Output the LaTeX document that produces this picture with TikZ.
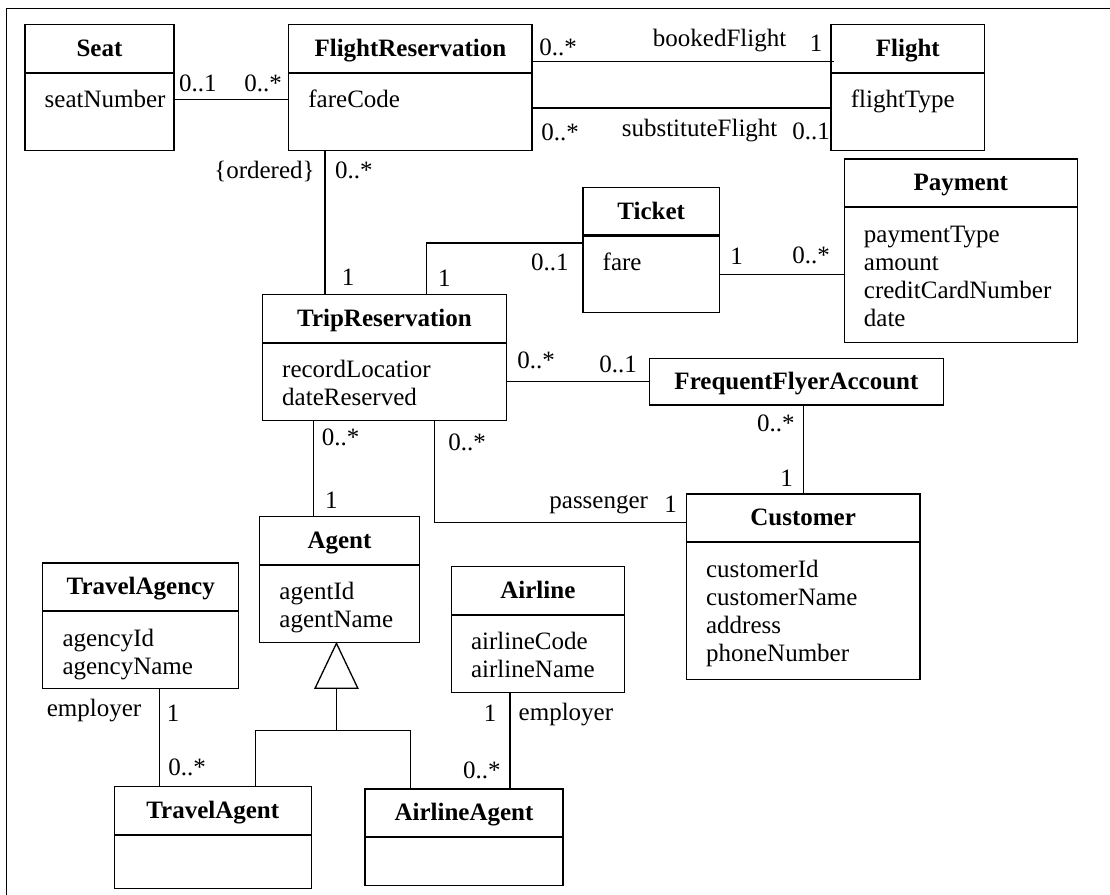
\documentclass[tikz,border=0pt]{standalone}
\usepackage{fontspec}
\setmainfont{Liberation Serif}
\usepackage{tikz}
\newcommand{\umlfont}{\fontsize{12.5}{14}\selectfont}
\tikzstyle{assoc} = [line width=0.65pt]
\tikzstyle{clshead} = [rectangle, draw=black, line width=0.65pt,
anchor=north west,
minimum height=23.75pt,
inner sep=0pt,
text height=10pt,
text depth=2pt,
font=\umlfont\bfseries]
\tikzstyle{clsbody} = [rectangle, draw=black, line width=0.65pt,
anchor=north west,
inner sep=0pt]
\tikzstyle{attr} = [anchor=north west, align=left, inner sep=0pt]
\tikzstyle{mult} = [inner sep=0pt, text height=8.5pt, text depth=0pt]

\begin{document}
\begin{tikzpicture}[x=0.5pt, y=-0.5pt, font=\umlfont]
            \useasboundingbox (0,0) rectangle (1110,895);
            \draw [assoc] (1110,8.3) -- (6.4,8.3) -- (6.4,895);

            \node (seath) [clshead, minimum width=74.5pt] at (24.3,24) {Seat};
            \node (seatb) [clsbody, minimum width=74.5pt, minimum height=38.5pt] at (seath.south west) {};
            \node (seata) [attr] at ([shift={(20,15)}]seatb.north west) {\strut seatNumber};

            \node (frh) [clshead, minimum width=121.7pt] at (288,24) {FlightReservation};
            \node (frb) [clsbody, minimum width=121.7pt, minimum height=38.5pt] at (frh.south west) {};
            \node (fra) [attr] at ([shift={(20,15)}]frb.north west) {\strut fareCode};

            \node (flighth) [clshead, minimum width=76.8pt] at (830.4,24) {Flight};
            \node (flightb) [clsbody, minimum width=76.8pt, minimum height=38.5pt] at (flighth.south west) {};
            \node (flighta) [attr] at ([shift={(20,15)}]flightb.north west) {\strut flightType};

            \node (payh) [clshead, minimum width=116.7pt] at (843.5,158.3) {Payment};
            \node (payb) [clsbody, minimum width=116.7pt, minimum height=67.4pt] at (payh.south west) {};
            \node (paya) [attr] at ([shift={(20,15)}]payb.north west) {\strut paymentType\\amount\\creditCardNumber\\date};

            \node (ticketh) [clshead, minimum width=68.3pt] at (582.3,186.7) {Ticket};
            \node (ticketb) [clsbody, minimum width=68.3pt, minimum height=38.25pt] at (ticketh.south west) {};
            \node (ticketa) [attr] at ([shift={(20,15)}]ticketb.north west) {\strut fare};

            \node (trh) [clshead, minimum width=122pt] at (261.8,294) {TripReservation};
            \node (trb) [clsbody, minimum width=122pt, minimum height=38.4pt] at (trh.south west) {};
            \node (tra) [attr] at ([shift={(20,15)}]trb.north west) {\strut recordLocatior\\dateReserved};

            \node (ffa) [clshead, minimum width=146.8pt, minimum height=23.3pt] at (649,357.7) {FrequentFlyerAccount};

            \node (custh) [clshead, minimum width=116.8pt] at (685.7,493.3) {Customer};
            \node (custb) [clsbody, minimum width=116.8pt, minimum height=68.4pt] at (custh.south west) {};
            \node (custa) [attr] at ([shift={(20,15)}]custb.north west) {\strut customerId\\customerName\\address\\phoneNumber};

            \node (agenth) [clshead, minimum width=79.8pt] at (259,516) {Agent};
            \node (agentb) [clsbody, minimum width=79.8pt, minimum height=38.6pt] at (agenth.south west) {};
            \node (agenta) [attr] at ([shift={(20,15)}]agentb.north west) {\strut agentId\\agentName};

            \node (tagencyh) [clshead, minimum width=98pt] at (42.1,562.3) {TravelAgency};
            \node (tagencyb) [clsbody, minimum width=98pt, minimum height=38.4pt] at (tagencyh.south west) {};
            \node (tagencya) [attr] at ([shift={(20,15)}]tagencyb.north west) {\strut agencyId\\agencyName};

            \node (airlineh) [clshead, minimum width=86.5pt] at (450.7,566) {Airline};
            \node (airlineb) [clsbody, minimum width=86.5pt, minimum height=38.6pt] at (airlineh.south west) {};
            \node (airlinea) [attr] at ([shift={(20,15)}]airlineb.north west) {\strut airlineCode\\airlineName};

            \node (tagenth) [clshead, minimum width=98.5pt] at (113.6,786) {TravelAgent};
            \node (tagentb) [clsbody, minimum width=98.5pt, minimum height=26.6pt] at (tagenth.south west) {};

            \node (aagenth) [clshead, minimum width=99pt] at (364.3,788.3) {AirlineAgent};
            \node (aagentb) [clsbody, minimum width=99pt, minimum height=23.75pt] at (aagenth.south west) {};

            \draw [assoc] (seatb.north east) ++(0,27) coordinate (sf) -- (frb.west |- sf);
            \draw [assoc] (frh.north east) ++(0,37.7) coordinate (bk) -- ([xshift=2pt]flighth.west |- bk);
            \draw [assoc] (frb.north east) ++(0,35.2) coordinate (sb) -- (flightb.west |- sb);
            \draw [assoc] (frb.south west) ++(37,0) coordinate (ft) -- (trh.north -| ft);
            \draw [assoc] (trh.north west) ++(165,0) |- ([shift={(0,7.5)}]ticketb.north west);
            \draw [assoc] (ticketb.north east) ++(0,39) coordinate (tq) -- (payb.west |- tq);
            \draw [assoc] (trb.north east) ++(0,38.5) coordinate (tf) -- (ffa.west |- tf);
            \draw [assoc] (ffa.south -| custh.north) -- (custh.north);
            \draw [assoc] (trb.south west) ++(173,0) |- ([shift={(0,5)}]custh.west);
            \draw [assoc] (trb.south west) ++(52,0) coordinate (ta) -- (agenth.north -| ta);
            \draw [assoc] (tagencyb.south west) ++(117.5,0) coordinate (te) -- (tagenth.north -| te);
            \draw [assoc] (airlineb.south west) ++(59.3,0) coordinate (ae) -- (aagenth.north -| ae);

            \coordinate (apex) at ([xshift=-1.5pt]agentb.south);
            \draw [assoc] (apex) -- ++(-21.4,45) -- ++(42.8,0) -- cycle;
            \draw [assoc] (apex) ++(0,45) -- ++(0,42) coordinate (gbar);
            \draw [assoc] (tagenth.north west) ++(142.1,0) |- (gbar) -| ([xshift=23.2pt]aagenth.north west);

            \node (sfm1) [mult, anchor=west] at (178.6,83) {0..1};
            \node (sfm2) [mult, anchor=west] at (244,83) {0..*};
            \node (bkm1) [mult, anchor=west] at (539,46.7) {0..*};
            \node (bkn)  [mult, anchor=west] at (652.5,37.7) {bookedFlight};
            \node (bkm2) [mult] at (816,43) {1};
            \node (sbm1) [mult, anchor=west] at (541,131.7) {0..*};
            \node (sbn)  [mult, anchor=west] at (621.4,127.7) {substituteFlight};
            \node (sbm2) [mult, anchor=west] at (792,130.7) {0..1};
            \node (ftc)  [mult, anchor=east] at (315,170) {\{ordered\}};
            \node (ftm1) [mult, anchor=west] at (334.6,170) {0..*};
            \node (ftm2) [mult] at (348,276.7) {1};
            \node (tkm1) [mult] at (444.3,278) {1};
            \node (tkm2) [mult, anchor=east] at (569,261.7) {0..1};
            \node (tqm1) [mult] at (736.7,255.5) {1};
            \node (tqm2) [mult, anchor=west] at (792,255) {0..*};
            \node (tfm1) [mult, anchor=west] at (517,360) {0..*};
            \node (tfm2) [mult, anchor=west] at (599,364) {0..1};
            \node (fcm1) [mult, anchor=east] at (795,422.7) {0..*};
            \node (fcm2) [mult] at (786.7,477.7) {1};
            \node (tcm1) [mult, anchor=west] at (448,441.7) {0..*};
            \node (tcn)  [mult, anchor=west] at (549,500) {passenger};
            \node (tcm2) [mult] at (670.7,504) {1};
            \node (tam1) [mult, anchor=west] at (321.4,436.7) {0..*};
            \node (tam2) [mult] at (331.4,500) {1};
            \node (ten)  [mult, anchor=west] at (46.4,708.3) {employer};
            \node (tem1) [mult] at (173,713.3) {1};
            \node (tem2) [mult, anchor=west] at (168,766.7) {0..*};
            \node (aem1) [mult] at (490,712.7) {1};
            \node (aen)  [mult, anchor=west] at (518.3,711.7) {employer};
            \node (aem2) [mult, anchor=west] at (462.7,770) {0..*};

        \end{tikzpicture}
\end{document}
